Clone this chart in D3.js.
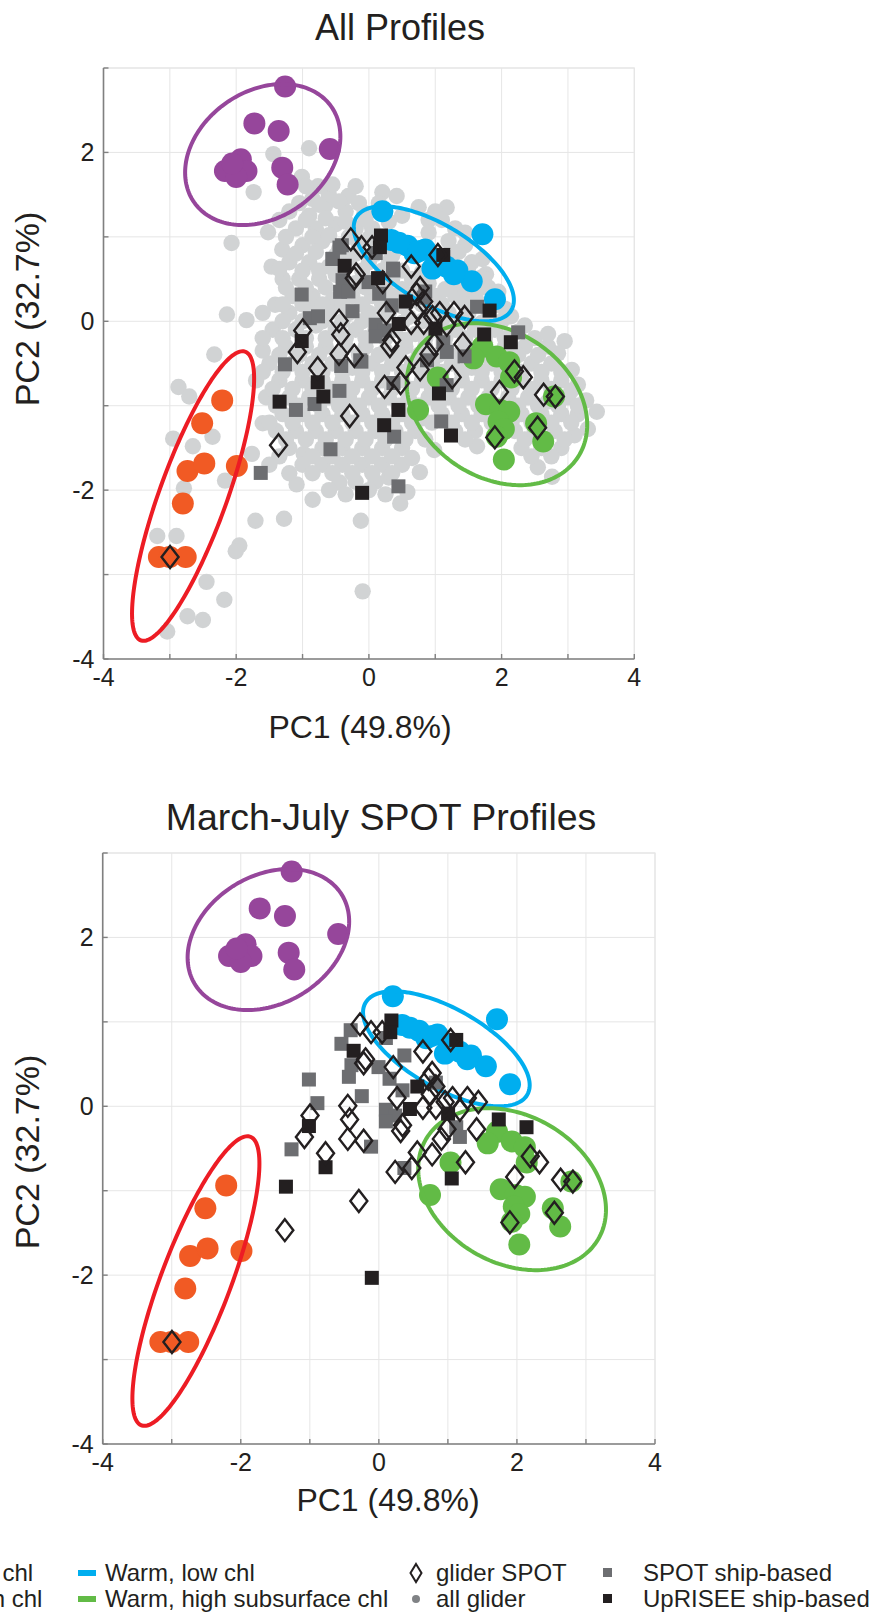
<!DOCTYPE html>
<html><head><meta charset="utf-8">
<script src="https://cdn.jsdelivr.net/npm/d3@7"></script>
<style>
body{margin:0;background:#fff}
text{font-family:"Liberation Sans",Arial,Helvetica,sans-serif;fill:#231F20}
</style></head>
<body><svg id="c" width="869" height="1615"></svg>
<script>
// ---------- DATA ----------
const xTicks = [-4,-3,-2,-1,0,1,2,3,4];
const xTickLabels = [-4,-2,0,2,4];
const yTicks = [-4,-3,-2,-1,0,1,2,3];
const yTickLabels = [-4,-2,0,2];

const purplePts = [[-1.263,2.78],[-1.726,2.344],[-1.36,2.253],[-0.589,2.04],[-2.17,1.78],[-1.93,1.92],[-1.845,1.78],[-2.0,1.71],[-2.06,1.87],[-1.306,1.82],[-1.225,1.62]];
const bluePts = [[0.203,1.303],[1.711,1.032],[0.337,0.964],[0.58,0.896],[0.849,0.851],[1.065,0.738],[1.172,0.647],[1.334,0.602],[1.55,0.475],[1.9,0.262],[1.28,0.557],[0.957,0.624],[0.687,0.805],[0.45,0.93],[0.75,0.83]];
const greenPts = [[1.038,-0.665],[1.711,-0.303],[1.927,-0.416],[2.115,-0.484],[2.142,-0.665],[1.765,-0.982],[1.98,-1.05],[2.115,-1.072],[1.954,-1.186],[2.034,-1.276],[1.927,-1.367],[0.741,-1.05],[2.52,-1.208],[2.627,-1.425],[2.034,-1.638],[2.789,-0.891],[1.577,-0.439]];
const redPts = [[-2.211,-0.937],[-2.513,-1.208],[-2.734,-1.774],[-2.481,-1.683],[-1.99,-1.715],[-2.804,-2.158],[-3.165,-2.792],[-3.003,-2.792],[-2.761,-2.792]];

// ellipses: [cx, cy, halfWidthX, halfHeightY, coupling]
const ellRed = [-2.65,-2.07,0.92,1.715,1.28];
const ellPurple = [-1.6,1.975,1.17,0.835,0.25];
const ellBlue = [0.978,0.681,1.207,0.681,-0.52];
const ellGreen = [1.93,-0.982,1.36,0.959,-0.33];

const gliderSpot = [[-2.997,-2.791],[-1.362,-1.467],[-0.29,-1.122],[-0.772,-0.556],[-1.078,-0.363],[-0.997,-0.11],[-0.45,0.005],[-0.424,-0.156],[-0.45,-0.386],[-0.22,-0.409],[0.316,-0.294],[0.343,-0.225],[0.236,-0.777],[0.477,-0.731],[0.557,-0.547],[0.772,-0.57],[0.638,-0.018],[0.826,-0.018],[1.255,-0.662],[1.416,-0.271],[1.282,0.097],[0.638,0.648],[1.04,0.786],[0.772,0.395],[-0.22,0.51],[-0.273,0.97],[0.048,0.878],[1.968,-0.837],[2.193,-0.593],[2.327,-0.662],[2.633,-0.869],[2.81,-0.892],[2.542,-1.26],[1.898,-1.375],[0.209,0.464],[0.263,0.097],[0.745,0.143],[0.96,0.05],[1.067,0.097],[0.906,-0.386],[0.987,-0.271],[1.174,-0.041],[1.442,0.05],[-0.193,0.556],[-0.113,0.878],[0.718,0.326],[0.826,0.234]];

const spotShipMJ = [[-0.408,0.901],[-0.542,0.74],[-0.397,0.487],[-0.434,0.349],[-1.013,0.317],[-0.89,0.037],[-0.247,0.12],[0.102,0.809],[-0.005,0.464],[0.155,0.326],[0.343,0.189],[0.37,0.602],[0.102,-0.041],[0.236,-0.11],[0.102,-0.179],[-0.113,-0.478],[-1.265,-0.51],[0.37,-0.731],[0.826,0.28],[1.121,-0.248],[1.174,-0.363]];
const spotShipOther = [[-1.63,-1.796],[0.445,-1.955],[-1.1,-1.05],[-0.82,-0.98],[-0.444,-0.824],[-0.417,-0.529],[-0.131,-0.462],[-0.579,-1.516],[0.38,-1.367],[1.09,-1.186],[0.876,-0.462],[1.442,-0.416],[1.172,-0.756],[1.63,0.172],[2.25,-0.131],[0.849,0.353],[0.364,0.624],[-0.767,0.059],[-0.309,0.353],[-0.444,0.873],[-0.552,0.738]];
const uprShipMJ = [[0.182,1.016],[0.166,0.878],[-0.365,0.657],[1.121,0.786],[0.557,0.234],[0.45,-0.032],[1.003,-0.087],[1.737,-0.156],[2.139,-0.248],[-1.013,-0.234],[-0.772,-0.722],[-1.346,-0.952],[1.056,-0.855],[-0.102,-2.032]];
const uprShipOther = [[-0.686,-0.891],[0.23,-1.231],[0.445,-1.05],[1.237,-1.353],[1.819,0.127],[0.138,0.511]];

const allGlider = [[-0.902,2.05],[-1.44,1.98],[-1.737,1.53],[-1.01,1.71],[-0.767,1.6],[-0.66,1.37],[-0.85,1.45],[-2.07,0.928],[-1.52,1.054],[-1.306,0.851],[-1.467,0.647],[-1.413,0.195],[-2.14,0.081],[-1.845,0.014],[-1.6,-0.348],[-2.33,-0.394],[-2.87,-0.778],[-2.707,-0.891],[-2.357,-1.367],[-2.95,-1.39],[-2.653,-1.48],[-2.168,-1.887],[-2.788,-1.977],[-3.19,-2.543],[-2.9,-2.543],[-1.953,-2.656],[-2.007,-2.724],[-1.71,-2.362],[-1.279,-2.339],[-2.448,-3.086],[-2.179,-3.299],[-2.734,-3.493],[-2.502,-3.538],[-3.04,-3.674],[-0.094,-3.199],[-0.848,-2.113],[-0.121,-2.362],[0.472,-2.158],[0.58,-2.023],[0.768,-1.787],[-0.444,-1.91],[-1.09,-1.932],[-1.6,-1.208],[-1.764,-1.57],[-0.983,-1.57],[1.172,1.348],[0.418,1.484],[0.203,1.529],[-0.309,1.484],[-0.606,1.507],[-0.067,1.281],[2.95,-0.235],[3.058,-0.575],[3.435,-1.072],[3.3,-1.276],[3.274,-0.937],[2.546,-1.729],[2.761,-1.842],[1.63,-1.48],[0.984,-1.525],[2.25,-0.122],[2.142,0.059],[1.927,0.195],[1.765,0.557],[1.711,0.738],
[-1.2,1.3],[-0.9,1.25],[-0.35,1.3],[0.5,1.25],[0.9,1.2],
[-1.1,1.1],[-0.8,1.1],[-0.5,1.15],[-0.2,1.1],[0.05,1.1],[0.9,1.05],[1.3,1.1],
[-1.0,0.9],[-0.7,0.95],[-0.45,0.85],[-0.15,0.9],[0.4,0.85],[1.45,0.9],
[-1.2,0.7],[-0.9,0.7],[-0.6,0.65],[-0.3,0.75],[0.0,0.7],[0.3,0.7],[1.2,0.75],[1.55,0.7],
[-1.3,0.5],[-1.05,0.5],[-0.75,0.5],[-0.5,0.55],[-0.2,0.45],[0.1,0.5],[0.35,0.5],[0.65,0.5],[0.9,0.45],[1.35,0.45],[1.8,0.4],
[-1.15,0.3],[-0.85,0.3],[-0.55,0.25],[-0.25,0.3],[0.05,0.3],[0.35,0.3],[0.65,0.25],[1.0,0.3],[1.3,0.3],[1.6,0.3],[1.95,0.35],
[-1.6,0.1],[-1.2,0.1],[-0.9,0.15],[-0.6,0.1],[-0.3,0.1],[0.0,0.1],[0.3,0.1],[0.6,0.05],[0.9,0.1],[1.2,0.1],[1.5,0.1],[1.8,0.05],
[-1.45,-0.1],[-1.1,-0.1],[-0.8,-0.05],[-0.5,-0.1],[-0.2,-0.1],[0.1,-0.1],[0.4,-0.1],[0.7,-0.15],[1.0,-0.1],[1.3,-0.1],[1.6,-0.1],[1.9,-0.1],[2.5,-0.2],
[-1.25,-0.3],[-0.95,-0.3],[-0.65,-0.3],[-0.35,-0.3],[-0.05,-0.3],[0.25,-0.35],[0.55,-0.3],[0.85,-0.3],[1.15,-0.3],[1.45,-0.3],[1.75,-0.25],[2.05,-0.3],[2.35,-0.3],[2.7,-0.3],
[-1.5,-0.5],[-1.15,-0.5],[-0.85,-0.5],[-0.55,-0.5],[-0.25,-0.55],[0.05,-0.5],[0.35,-0.5],[0.65,-0.5],[0.95,-0.5],[1.25,-0.5],[1.55,-0.55],[1.85,-0.5],[2.15,-0.5],[2.45,-0.5],[2.75,-0.5],
[-1.7,-0.7],[-1.35,-0.7],[-1.0,-0.7],[-0.7,-0.7],[-0.4,-0.7],[-0.1,-0.7],[0.2,-0.7],[0.5,-0.7],[0.8,-0.7],[1.1,-0.7],[1.4,-0.7],[1.7,-0.7],[2.0,-0.7],[2.3,-0.7],[2.6,-0.7],[2.9,-0.7],[3.15,-0.75],
[-1.55,-0.9],[-1.2,-0.9],[-0.9,-0.9],[-0.6,-0.9],[-0.3,-0.9],[0.0,-0.9],[0.3,-0.9],[0.6,-0.9],[0.9,-0.9],[1.2,-0.9],[1.5,-0.9],[1.8,-0.9],[2.1,-0.9],[2.4,-0.9],[2.7,-0.95],[3.0,-0.9],
[-1.3,-1.1],[-1.0,-1.1],[-0.7,-1.1],[-0.4,-1.1],[-0.1,-1.1],[0.2,-1.1],[0.5,-1.1],[0.8,-1.15],[1.1,-1.1],[1.4,-1.1],[1.7,-1.1],[2.0,-1.1],[2.3,-1.1],[2.6,-1.1],[2.9,-1.1],[3.15,-1.1],
[-1.4,-1.3],[-1.1,-1.3],[-0.8,-1.3],[-0.5,-1.3],[-0.2,-1.3],[0.1,-1.3],[0.4,-1.3],[0.7,-1.3],[1.3,-1.3],[1.6,-1.3],[2.2,-1.3],[2.5,-1.3],[2.8,-1.3],[3.1,-1.35],
[-1.2,-1.5],[-0.7,-1.5],[-0.4,-1.5],[-0.1,-1.5],[0.2,-1.5],[0.5,-1.5],[2.3,-1.5],[2.6,-1.5],[2.9,-1.5],
[-1.5,-1.7],[-1.0,-1.7],[-0.7,-1.7],[-0.4,-1.7],[-0.1,-1.7],[0.2,-1.7],[0.5,-1.7],
[-0.2,-1.9],[0.1,-1.9],[0.3,-1.85],
[-0.95,1.6],[-0.55,1.62],[-0.2,1.6],
[-1.05,1.4],[-0.75,1.38],[-0.45,1.42],[-0.15,1.4],[0.15,1.4],[0.75,1.35],[1.0,1.3],
[-1.35,1.2],[-0.95,1.2],[-0.65,1.22],[-0.35,1.18],[-0.05,1.2],[0.3,1.18],[1.1,1.2],[1.45,1.05],
[-1.25,1.0],[-0.85,1.0],[-0.6,1.02],[-0.3,1.0],[0.0,0.98],[0.25,1.0],[1.2,0.95],
[-1.1,0.8],[-0.8,0.82],[-0.5,0.78],[-0.2,0.8],[0.1,0.8],[0.35,0.78],[1.35,0.82],
[-1.35,0.62],[-1.0,0.6],[-0.75,0.6],[-0.4,0.62],[-0.1,0.6],[0.2,0.6],[0.5,0.6],[0.8,0.58],[1.5,0.58],[1.7,0.52],
[-1.25,0.4],[-0.95,0.4],[-0.65,0.4],[-0.35,0.42],[-0.05,0.4],[0.25,0.4],[0.5,0.38],[0.8,0.4],[1.15,0.38],[1.45,0.38],[1.7,0.4],
[-1.3,0.2],[-1.0,0.2],[-0.7,0.2],[-0.4,0.2],[-0.1,0.2],[0.2,0.2],[0.5,0.18],[0.8,0.2],[1.1,0.2],[1.45,0.2],[1.75,0.2],[2.05,0.15],
[-1.3,0.0],[-1.0,0.0],[-0.7,0.0],[-0.4,0.0],[-0.1,0.0],[0.2,0.0],[0.5,-0.02],[0.8,0.0],[1.1,0.0],[1.4,0.0],[1.7,-0.02],[2.0,0.0],[2.35,-0.05],
[-1.6,-0.2],[-1.3,-0.2],[-0.95,-0.2],[-0.65,-0.2],[-0.35,-0.2],[-0.05,-0.2],[0.25,-0.2],[0.55,-0.22],[0.85,-0.2],[1.15,-0.2],[1.45,-0.2],[1.75,-0.18],[2.05,-0.2],[2.7,-0.15],
[-1.35,-0.4],[-1.05,-0.4],[-0.75,-0.4],[-0.45,-0.4],[-0.15,-0.4],[0.15,-0.4],[0.45,-0.4],[0.75,-0.4],[1.05,-0.4],[1.35,-0.4],[1.65,-0.4],[1.95,-0.4],[2.25,-0.4],[2.55,-0.4],[2.85,-0.38],
[-1.6,-0.6],[-1.3,-0.6],[-1.0,-0.6],[-0.7,-0.6],[-0.4,-0.6],[-0.1,-0.6],[0.2,-0.6],[0.5,-0.6],[0.8,-0.6],[1.1,-0.6],[1.4,-0.6],[1.7,-0.6],[2.0,-0.6],[2.3,-0.6],[2.6,-0.6],[2.9,-0.6],
[-1.45,-0.8],[-1.15,-0.8],[-0.85,-0.8],[-0.55,-0.8],[-0.25,-0.8],[0.05,-0.8],[0.35,-0.8],[0.65,-0.8],[0.95,-0.8],[1.25,-0.8],[1.55,-0.8],[1.85,-0.8],[2.15,-0.8],[2.45,-0.8],[2.75,-0.8],[3.05,-0.82],
[-1.4,-1.0],[-1.05,-1.0],[-0.75,-1.0],[-0.45,-1.0],[-0.15,-1.0],[0.15,-1.0],[0.45,-1.0],[0.75,-1.0],[1.05,-1.0],[1.35,-1.0],[1.65,-1.0],[1.95,-1.0],[2.25,-1.0],[2.55,-1.0],[2.85,-1.0],[3.15,-1.0],
[-1.5,-1.2],[-1.15,-1.2],[-0.85,-1.2],[-0.55,-1.2],[-0.25,-1.2],[0.05,-1.2],[0.35,-1.2],[0.65,-1.2],[0.95,-1.2],[1.25,-1.2],[1.55,-1.2],[1.85,-1.2],[2.15,-1.2],[2.45,-1.2],[2.75,-1.2],[3.05,-1.2],
[-1.25,-1.4],[-0.95,-1.4],[-0.65,-1.4],[-0.35,-1.4],[-0.05,-1.4],[0.25,-1.4],[0.55,-1.4],[0.85,-1.4],[1.45,-1.4],[2.35,-1.4],[2.65,-1.4],[2.95,-1.4],
[-1.35,-1.6],[-0.85,-1.6],[-0.55,-1.6],[-0.25,-1.6],[0.05,-1.6],[0.35,-1.6],[0.65,-1.62],[2.45,-1.6],[2.75,-1.6],
[-1.2,-1.8],[-0.85,-1.8],[-0.55,-1.8],[-0.25,-1.8],[0.05,-1.8],[0.35,-1.8],
[-0.6,-2.0],[-0.35,-2.05],[0.0,-2.0],[0.25,-2.05]];

const legendCol1 = ["Cold, low chl","Cold, high chl"];
const legendCol2 = ["Warm, low chl","Warm, high subsurface chl"];
const legendCol3 = ["glider SPOT","all glider"];
const legendCol4 = ["SPOT ship-based","UpRISEE ship-based"];

// ---------- STYLE ----------
const C = {purple:"#96469B", blue:"#00AEEF", green:"#62BB46", red:"#F15A24", redLine:"#ED1C24",
  gray:"#D1D3D4", shipGray:"#6D6E71", shipBlack:"#231F20", grid:"#E6E6E6", axis:"#808080", ink:"#231F20"};

const svg = d3.select("#c");

function ellipsePts(e){
  const [cx,cy,wx,hy,k] = e;
  const ay = k/wx, by = Math.sqrt(Math.max(hy*hy - ay*ay, 0));
  return d3.range(0, 361, 2).map(d => {
    const t = d*Math.PI/180;
    return [cx + wx*Math.cos(t), cy + ay*Math.cos(t) + by*Math.sin(t)];
  });
}

function panel(cfg){
  const x = d3.scaleLinear().domain([-4,4]).range([cfg.left, cfg.right]);
  const y = d3.scaleLinear().domain([-4,3]).range([cfg.bottom, cfg.top]);
  const g = svg.append("g");
  g.selectAll(".gx").data(xTicks).enter().append("line")
    .attr("x1", d=>x(d)).attr("x2", d=>x(d)).attr("y1", cfg.top).attr("y2", cfg.bottom)
    .attr("stroke", C.grid).attr("stroke-width", 1);
  g.selectAll(".gy").data(yTicks).enter().append("line")
    .attr("y1", d=>y(d)).attr("y2", d=>y(d)).attr("x1", cfg.left).attr("x2", cfg.right)
    .attr("stroke", C.grid).attr("stroke-width", 1);
  g.append("rect").attr("x", cfg.left).attr("y", cfg.top).attr("width", cfg.right-cfg.left)
    .attr("height", cfg.bottom-cfg.top).attr("fill","none").attr("stroke", C.grid).attr("stroke-width",1.2);

  const clip = "clip"+cfg.id;
  svg.append("clipPath").attr("id", clip).append("rect")
    .attr("x", cfg.left).attr("y", cfg.top).attr("width", cfg.right-cfg.left).attr("height", cfg.bottom-cfg.top);
  const m = g.append("g").attr("clip-path", `url(#${clip})`);

  if (cfg.showAll) {
    m.selectAll(".ag").data(allGlider).enter().append("circle")
      .attr("cx", d=>x(d[0])).attr("cy", d=>y(d[1])).attr("r", 8.2).attr("fill", C.gray);
  }
  const clusters = [[purplePts,C.purple],[bluePts,C.blue],[greenPts,C.green],[redPts,C.red]];
  clusters.forEach(([pts,col]) => {
    m.selectAll(null).data(pts).enter().append("circle")
      .attr("cx", d=>x(d[0])).attr("cy", d=>y(d[1])).attr("r", 11).attr("fill", col);
  });
  const line = d3.line().x(d=>x(d[0])).y(d=>y(d[1]));
  [[ellPurple,C.purple],[ellBlue,C.blue],[ellGreen,C.green],[ellRed,C.redLine]].forEach(([e,col]) => {
    m.append("path").attr("d", line(ellipsePts(e)) + "Z").attr("fill","none")
      .attr("stroke", col).attr("stroke-width", 4);
  });
  const sq = 14;
  const grayShips = cfg.showAll ? spotShipMJ.concat(spotShipOther) : spotShipMJ;
  const blackShips = cfg.showAll ? uprShipMJ.concat(uprShipOther) : uprShipMJ;
  m.selectAll(null).data(grayShips).enter().append("rect")
    .attr("x", d=>x(d[0])-sq/2).attr("y", d=>y(d[1])-sq/2).attr("width", sq).attr("height", sq).attr("fill", C.shipGray);
  m.selectAll(null).data(blackShips).enter().append("rect")
    .attr("x", d=>x(d[0])-sq/2).attr("y", d=>y(d[1])-sq/2).attr("width", sq).attr("height", sq).attr("fill", C.shipBlack);
  m.selectAll(null).data(gliderSpot).enter().append("path")
    .attr("d", d=>{const px=x(d[0]), py=y(d[1]); return `M${px},${py-11}L${px+8.5},${py}L${px},${py+11}L${px-8.5},${py}Z`;})
    .attr("fill","none").attr("stroke", C.ink).attr("stroke-width", 2.4);

  g.append("line").attr("x1", cfg.left).attr("x2", cfg.left).attr("y1", cfg.top).attr("y2", cfg.bottom)
    .attr("stroke", C.axis).attr("stroke-width", 1.6);
  g.append("line").attr("x1", cfg.left).attr("x2", cfg.right).attr("y1", cfg.bottom).attr("y2", cfg.bottom)
    .attr("stroke", C.axis).attr("stroke-width", 1.6);
  g.selectAll(null).data(xTicks).enter().append("line")
    .attr("x1", d=>x(d)).attr("x2", d=>x(d)).attr("y1", cfg.bottom).attr("y2", cfg.bottom-5)
    .attr("stroke", C.axis).attr("stroke-width", 1.4);
  g.selectAll(null).data(yTicks).enter().append("line")
    .attr("y1", d=>y(d)).attr("y2", d=>y(d)).attr("x1", cfg.left).attr("x2", cfg.left+5)
    .attr("stroke", C.axis).attr("stroke-width", 1.4);
  g.selectAll(null).data(xTickLabels).enter().append("text")
    .attr("x", d=>x(d)).attr("y", cfg.bottom+27).attr("text-anchor","middle")
    .attr("font-size", 25).text(d=>d);
  g.selectAll(null).data(yTickLabels).enter().append("text")
    .attr("x", cfg.left-9).attr("y", d=>y(d)+9).attr("text-anchor","end")
    .attr("font-size", 25).text(d=>d);
  svg.append("text").attr("x", cfg.titleX).attr("y", cfg.titleY).attr("text-anchor","middle")
    .attr("font-size", cfg.titleSize).text(cfg.title);
  svg.append("text").attr("x", cfg.xlabX).attr("y", cfg.xlabY).attr("text-anchor","middle")
    .attr("font-size", 32).text("PC1 (49.8%)");
  svg.append("text").attr("transform", `translate(${cfg.ylabX},${cfg.ylabY}) rotate(-90)`)
    .attr("text-anchor","middle").attr("font-size", 34).text("PC2 (32.7%)");
}

panel({id:"a", left:103.5, right:634.3, top:68, bottom:659, showAll:true,
  title:"All Profiles", titleSize:36, titleX:400, titleY:40, xlabX:360, xlabY:738, ylabX:39, ylabY:309});
panel({id:"b", left:102.7, right:655, top:853, bottom:1444, showAll:false,
  title:"March-July SPOT Profiles", titleSize:37.5, titleX:381, titleY:830, xlabX:388, xlabY:1511, ylabX:39, ylabY:1152});

// legend
const lg = svg.append("g");
const rowsY = [1573, 1599];
legendCol1.forEach((t,i)=>{
  lg.append("rect").attr("x",-145).attr("y",rowsY[i]-3).attr("width",18).attr("height",6).attr("fill", i===0?C.redLine:C.purple);
  lg.append("text").attr("x",-103).attr("y",rowsY[i]+8).attr("font-size",24).text(t);
});
legendCol2.forEach((t,i)=>{
  lg.append("rect").attr("x",78).attr("y",rowsY[i]-3).attr("width",18).attr("height",6).attr("fill", i===0?C.blue:C.green);
  lg.append("text").attr("x",105).attr("y",rowsY[i]+8).attr("font-size",24).text(t);
});
lg.append("path").attr("d",`M416,${rowsY[0]-9}L421.5,${rowsY[0]}L416,${rowsY[0]+9}L410.5,${rowsY[0]}Z`)
  .attr("fill","none").attr("stroke",C.ink).attr("stroke-width",2);
lg.append("circle").attr("cx",416).attr("cy",rowsY[1]).attr("r",4).attr("fill","#808285");
legendCol3.forEach((t,i)=>{
  lg.append("text").attr("x",436).attr("y",rowsY[i]+8).attr("font-size",24).text(t);
});
lg.append("rect").attr("x",603).attr("y",rowsY[0]-5).attr("width",9).attr("height",9).attr("fill",C.shipGray);
lg.append("rect").attr("x",603).attr("y",rowsY[1]-5).attr("width",9).attr("height",9).attr("fill",C.shipBlack);
legendCol4.forEach((t,i)=>{
  lg.append("text").attr("x",643).attr("y",rowsY[i]+8).attr("font-size",24).text(t);
});
</script></body></html>
